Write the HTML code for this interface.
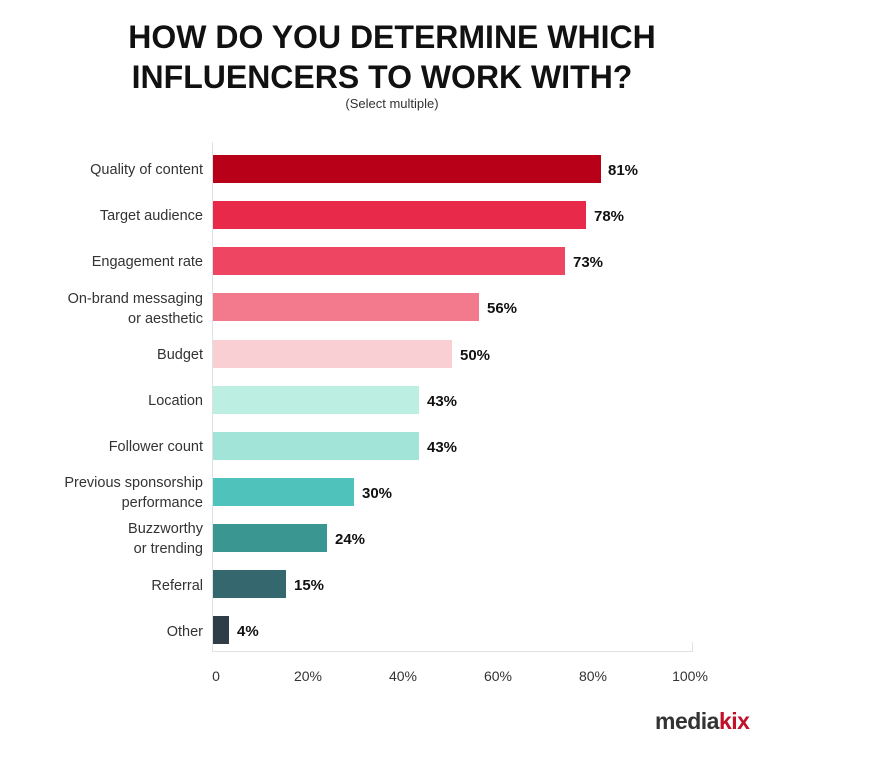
<!DOCTYPE html>
<html><head><meta charset="utf-8"><style>
body{margin:0;background:#fff;width:883px;height:755px;overflow:hidden}
</style></head><body>
<svg width="883" height="755" xmlns="http://www.w3.org/2000/svg" font-family="Liberation Sans, sans-serif">
<text x="392" y="48" text-anchor="middle" font-size="32" font-weight="bold" fill="#111">HOW DO YOU DETERMINE WHICH</text>
<text x="382" y="88" text-anchor="middle" font-size="32" font-weight="bold" fill="#111">INFLUENCERS TO WORK WITH?</text>
<text x="392" y="108" text-anchor="middle" font-size="13" fill="#333">(Select multiple)</text>
<line x1="212.5" y1="142" x2="212.5" y2="652" stroke="#dde3e3"/>
<line x1="212" y1="651.5" x2="693" y2="651.5" stroke="#dde3e3"/>
<line x1="692.5" y1="642" x2="692.5" y2="652" stroke="#dde3e3"/>
<g font-size="14" fill="#333" text-anchor="middle">
<text x="216" y="681">0</text><text x="308" y="681">20%</text><text x="403" y="681">40%</text><text x="498" y="681">60%</text><text x="593" y="681">80%</text><text x="690" y="681">100%</text>
</g>
<g font-size="14.5" fill="#333" text-anchor="end">
<text x="203" y="174">Quality of content</text>
<text x="203" y="220">Target audience</text>
<text x="203" y="266">Engagement rate</text>
<text x="203" y="303">On-brand messaging</text>
<text x="203" y="323">or aesthetic</text>
<text x="203" y="359">Budget</text>
<text x="203" y="405">Location</text>
<text x="203" y="451">Follower count</text>
<text x="203" y="487">Previous sponsorship</text>
<text x="203" y="507">performance</text>
<text x="203" y="533">Buzzworthy</text>
<text x="203" y="553">or trending</text>
<text x="203" y="590">Referral</text>
<text x="203" y="636">Other</text>
</g>
<g>
<rect x="213" y="155" width="388" height="28" fill="#b80018"/>
<rect x="213" y="201" width="373" height="28" fill="#e8294a"/>
<rect x="213" y="247" width="352" height="28" fill="#ee4562"/>
<rect x="213" y="293" width="266" height="28" fill="#f37a8c"/>
<rect x="213" y="340" width="239" height="28" fill="#f9cfd3"/>
<rect x="213" y="386" width="206" height="28" fill="#bcefe2"/>
<rect x="213" y="432" width="206" height="28" fill="#a3e4d9"/>
<rect x="213" y="478" width="141" height="28" fill="#4fc3bb"/>
<rect x="213" y="524" width="114" height="28" fill="#3a9690"/>
<rect x="213" y="570" width="73" height="28" fill="#35686e"/>
<rect x="213" y="616" width="16" height="28" fill="#2f3d48"/>
</g>
<g font-size="15" font-weight="bold" fill="#111">
<text x="608" y="175">81%</text>
<text x="594" y="221">78%</text>
<text x="573" y="267">73%</text>
<text x="487" y="313">56%</text>
<text x="460" y="360">50%</text>
<text x="427" y="406">43%</text>
<text x="427" y="452">43%</text>
<text x="362" y="498">30%</text>
<text x="335" y="544">24%</text>
<text x="294" y="590">15%</text>
<text x="237" y="636">4%</text>
</g>
<text x="655" y="729" font-size="23" font-weight="bold" fill="#333" letter-spacing="-0.5">media<tspan fill="#c0102a">kix</tspan></text>
</svg>
</body></html>
